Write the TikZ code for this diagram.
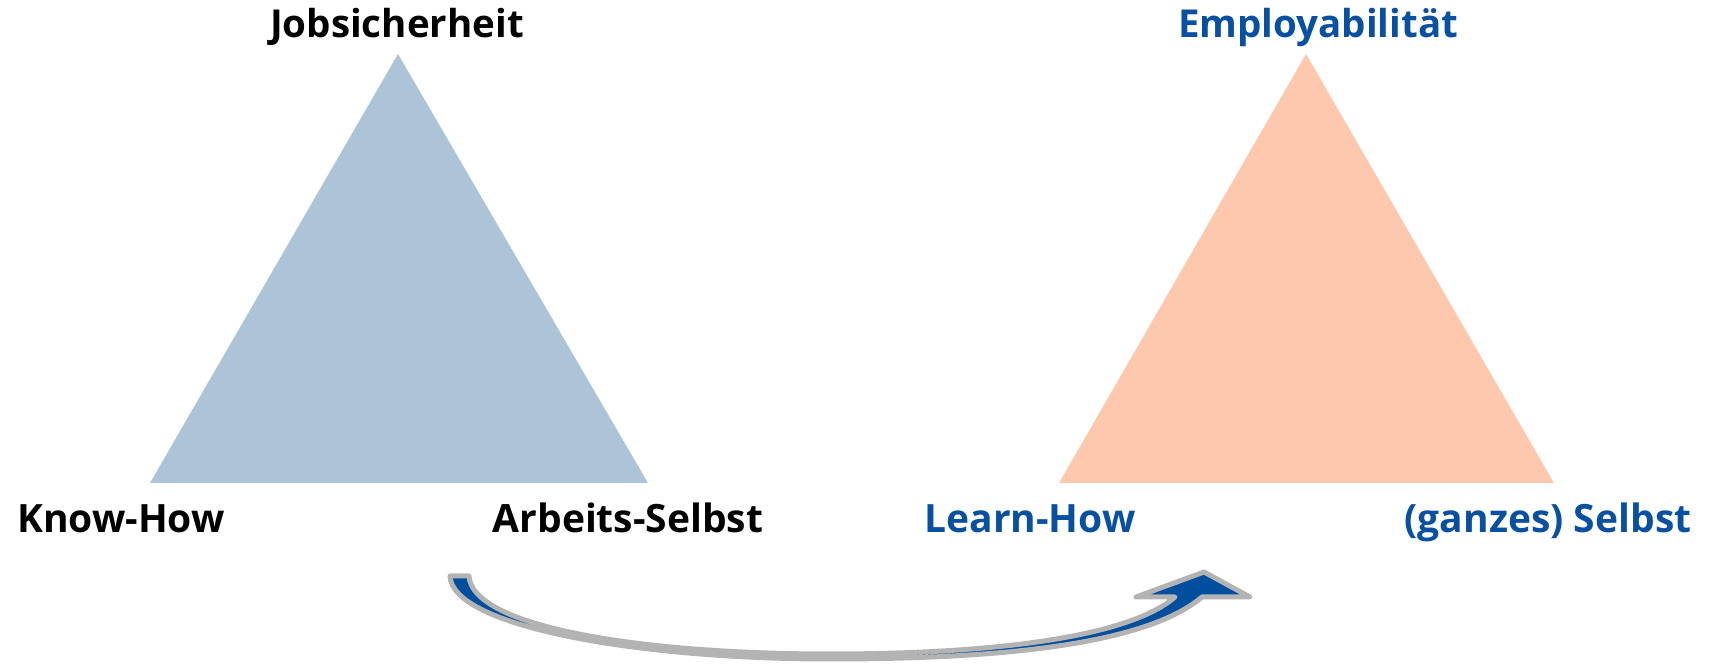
\documentclass[tikz,border=0pt]{standalone}
\usepackage{fontspec}
\setmainfont{Open Sans}
\newfontfamily\labelfont{Open Sans}[UprightFont={* Bold}]
\definecolor{triblue}{HTML}{ADC4D8}
\definecolor{triorange}{HTML}{FDC8AD}
\definecolor{labelblue}{HTML}{0A50A0}
\definecolor{arrowblue}{HTML}{004F9F}
\definecolor{arrowrim}{HTML}{B3B3B3}
\begin{document}
\begin{tikzpicture}[x=1pt,y=1pt,
  toplabel/.style={font=\labelfont\fontsize{38.5}{40}\selectfont, inner sep=0pt, anchor=base},
  baselabel/.style={font=\labelfont\fontsize{39}{41}\selectfont, inner sep=0pt, anchor=base},
  oldtext/.style={text=black},
  newtext/.style={text=labelblue}]
\useasboundingbox (0,0) rectangle (1709,664);

% left triangle: the old model
\coordinate (la) at (398,610);
\coordinate (ll) at (150,181);
\coordinate (lr) at (648,181);
\fill[triblue] (la) -- (ll) -- (lr) -- cycle;

% right triangle: the new model
\coordinate (ra) at (1306,610);
\coordinate (rl) at (1059,181);
\coordinate (rr) at (1554,181);
\fill[triorange] (ra) -- (rl) -- (rr) -- cycle;

% corner labels
\node[toplabel, oldtext] (job) at (397,626) {Jobsicherheit};
\node[baselabel, oldtext] (know) at (121,131) {Know-How};
\node[baselabel, oldtext] (arb) at (628,131) {Arbeits-Selbst};
\node[toplabel, newtext] (emp) at (1318,626) {Employabilität};
\node[baselabel, newtext] (learn) at (1030,131) {Learn-How};
\node[baselabel, newtext] (ganz) at (1548,131) {(ganzes) Selbst};

% curved transition arrow
\filldraw[fill=arrowblue, draw=arrowrim, line width=5pt, line join=round]
  (450,88) .. controls (452,37) and (640,5) .. (830,5)
  .. controls (1020,5) and (1150,23) .. (1202,67)
  -- (1250,67) -- (1204,92) -- (1136,67) -- (1175,67)
  .. controls (1130,28) and (1000,10) .. (830,10)
  .. controls (640,10) and (472,37) .. (469,88) -- cycle;
\end{tikzpicture}
\end{document}
